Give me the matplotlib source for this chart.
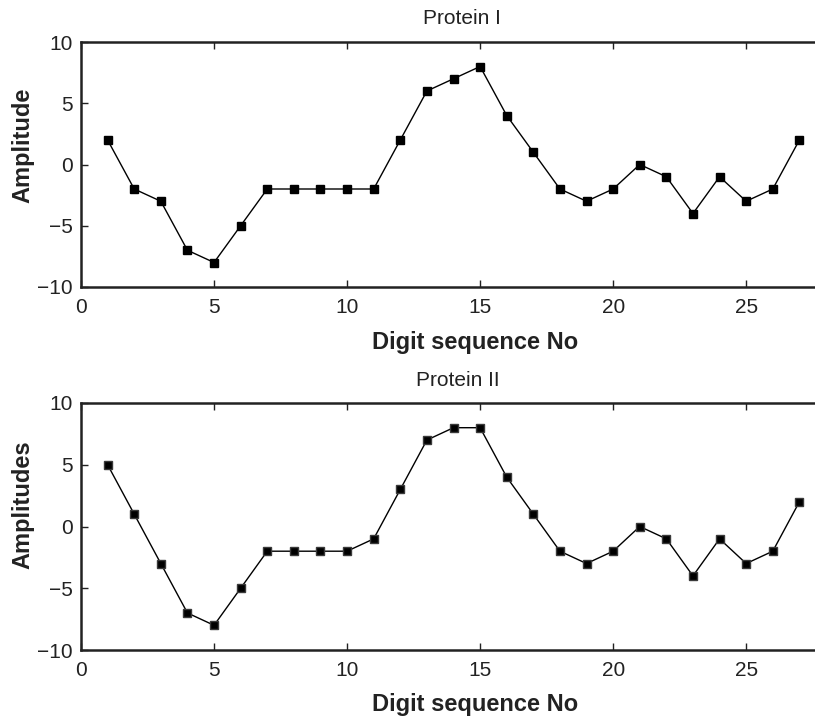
import numpy as np
import matplotlib
matplotlib.use("Agg")
from matplotlib import pyplot as plt

plt.rcParams['font.family'] = ['Liberation Sans', 'DejaVu Sans']

seq_no = list(range(1, 28))
protein_1 = [2, -2, -3, -7, -8, -5, -2, -2, -2, -2, -2, 2, 6, 7, 8, 4, 1,
             -2, -3, -2, 0, -1, -4, -1, -3, -2, 2]
protein_2 = [5, 1, -3, -7, -8, -5, -2, -2, -2, -2, -1, 3, 7, 8, 8, 4, 1,
             -2, -3, -2, 0, -1, -4, -1, -3, -2, 2]
x_ticks = [0, 5, 10, 15, 20, 25]
y_ticks = [-10, -5, 0, 5, 10]
y_ticklabels = ['\u221210', '\u22125', '0', '5', '10']

W, H = 815, 720
fig = plt.figure(figsize=(W / 100, H / 100), dpi=100)

def px_axes(left, top, right, bottom):
    return fig.add_axes([left / W, 1 - bottom / H, (right - left) / W, (bottom - top) / H])

# (axes box in px, data, title, title centre px, ylabel, marker edge, ylabel centre y px)
panels = [
    ((81, 42, 826, 287), protein_1, "Protein I", (462, 18), "Amplitude", 'black', 145.5),
    ((81, 403, 826, 650), protein_2, "Protein II", (458, 381), "Amplitudes", '#3a3a3a', 505),
]

for box, vals, title, tpos, ylab, edge, ylab_y in panels:
    left, top, right, bottom = box
    ax = px_axes(*box)
    aw, ah = right - left, bottom - top
    ax.plot(seq_no, vals, color='black', lw=1.0, marker='s', ms=6.2,
            mfc='black', mec=edge, mew=1.0)
    ax.set_xlim(0, 28)
    ax.set_ylim(-10, 10)
    ax.set_xticks(x_ticks)
    ax.set_yticks(y_ticks)
    ax.set_yticklabels(y_ticklabels)
    ax.tick_params(direction='in', length=5, width=1, top=True, right=True,
                   labelsize=15, colors='#222222')
    ax.tick_params(axis='x', pad=8)
    ax.tick_params(axis='y', pad=6)
    for sp in ax.spines.values():
        sp.set_linewidth(1.8)
        sp.set_color('#222222')

    fig.text(tpos[0] / W, 1 - tpos[1] / H, title, fontsize=15, color='#222222',
             ha='center', va='center')

    ax.set_xlabel("Digit sequence No", fontsize=17, fontweight='bold', color='#222222')
    ax.xaxis.set_label_coords((475 - left) / aw, -61.5 / ah)
    ax.xaxis.label.set_verticalalignment('baseline')

    ax.set_ylabel(ylab, fontsize=17, fontweight='bold', color='#222222')
    ax.yaxis.set_label_coords((34 - left) / aw, (bottom - ylab_y) / ah)

fig.savefig("out.png", dpi=100)
